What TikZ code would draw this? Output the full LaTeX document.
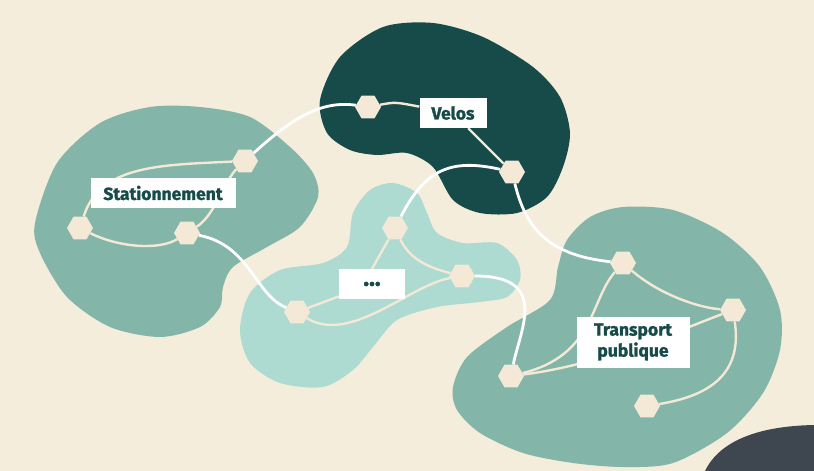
\documentclass[tikz,border=0pt]{standalone}
\usepackage{fontspec}
\setmainfont{Fira Sans}
\newfontfamily\lblfont{Fira Sans}[BoldFeatures={FakeBold=1.4}]
\usetikzlibrary{shapes.geometric}
\definecolor{sand}{HTML}{F5EDDC}
\definecolor{sage}{HTML}{83B6A8}
\definecolor{deep}{HTML}{174B4A}
\definecolor{mint}{HTML}{ADDAD1}
\definecolor{cream}{HTML}{F3E9D6}
\definecolor{slate}{HTML}{3E4750}
\pgfdeclarelayer{blobs}
\pgfdeclarelayer{links}
\pgfsetlayers{blobs,links,main}

\begin{document}
\begin{tikzpicture}[x=1pt,y=-1pt,
 hex/.style={regular polygon,regular polygon sides=6,fill=cream,minimum size=26pt,inner sep=0pt},
 lbl/.style={fill=white,text=deep,font=\lblfont\bfseries\fontsize{17.5}{21}\selectfont,align=center,minimum height=30pt,inner xsep=11pt},
 road/.style={draw=white,line width=2.8pt},
 trail/.style={draw=cream,line width=2.4pt}]
\useasboundingbox (0,0) rectangle (814,471);
\foreach \n/\x/\y in {h1/80/228,h2/187/233,h3/245/161,h4/368/107,h5/512/172,h6/395/228,
  h7/462/276,h8/297/312,h9/623/263,h10/733/310,h11/511/376,h12/647/406}
  \node[hex] (\n) at (\x,\y) {};
\node[lbl,minimum width=145pt] (stat) at (163,193) {Stationnement};
\node[lbl,minimum width=67pt] (velos) at (453,113) {Velos};
\node[lbl,minimum width=66pt,font=\lblfont\bfseries\fontsize{24}{24}\selectfont] (dots) at (372,284) {...};
\node[lbl,minimum width=113pt,minimum height=51pt] (tp) at (633,342) {Transport\\publique};
\begin{pgfonlayer}{blobs}
\fill[sand] (0,0) rectangle (814,471);
\fill[sage] plot[smooth cycle] coordinates {(35,223) (57,163) (100,123) (150,107) (200,107) (250,117) (290,147) (313,173) (318,197) (300,227) (267,247) (233,267) (223,287) (220,307) (200,327) (160,337) (110,327) (67,297) (40,253)};
\fill[deep] plot[smooth cycle] coordinates {(320,100) (340,57) (383,27) (433,23) (483,37) (533,67) (560,97) (570,133) (563,167) (547,197) (517,213) (480,213) (453,200) (433,167) (407,153) (377,155) (350,150) (327,133)};
\fill[mint] plot[smooth cycle] coordinates {(240,330) (250,293) (280,270) (323,263) (347,247) (353,213) (370,190) (393,183) (417,193) (427,213) (437,233) (463,243) (497,243) (517,260) (520,280) (507,297) (480,302) (437,307) (397,320) (373,347) (353,370) (323,387) (280,383) (250,363)};
\fill[sage] plot[smooth cycle] coordinates {(453,387) (467,357) (507,327) (550,300) (558,267) (567,240) (590,217) (623,207) (673,210) (723,233) (760,267) (780,310) (780,350) (763,393) (727,433) (673,463) (623,467) (573,463) (523,453) (480,433) (457,410)};
\fill[slate] (705,471) .. controls (720,440) and (760,426) .. (814,425) -- (814,471) -- cycle;
\end{pgfonlayer}
\begin{pgfonlayer}{links}
\draw[road] (h3) .. controls (290,120) and (320,100) .. (h4);
\draw[road] (h5) .. controls (450,158) and (425,170) .. (h6);
\draw[road] (h5) .. controls (525,225) and (545,255) .. (h9);
\draw[road] (h2) .. controls (250,245) and (255,295) .. (h8);
\draw[road] (h7) .. controls (550,276) and (520,330) .. (h11);
\draw[trail] (h4) .. controls (395,102) .. (velos);
\draw[trail] (velos) -- (h5);
\draw[trail] (h1) .. controls (100,165) and (160,165) .. (h3);
\draw[trail] (h1) .. controls (120,248) and (160,250) .. (h2);
\draw[trail] (h2) .. controls (215,215) and (225,180) .. (h3);
\draw[trail] (h8) -- (dots);
\draw[trail] (h6) -- (dots.north);
\draw[trail] (h6) .. controls (410,260) and (430,268) .. (h7);
\draw[trail] (h8) .. controls (350,345) and (410,285) .. (h7);
\draw[trail] (h9) .. controls (660,295) and (700,308) .. (h10);
\draw[trail] (h9) .. controls (590,300) and (595,355) .. (h11);
\draw[trail] (h11) .. controls (600,365) and (680,330) .. (h10);
\draw[trail] (h10) .. controls (742,370) and (715,395) .. (h12);
\end{pgfonlayer}
\end{tikzpicture}
\end{document}
